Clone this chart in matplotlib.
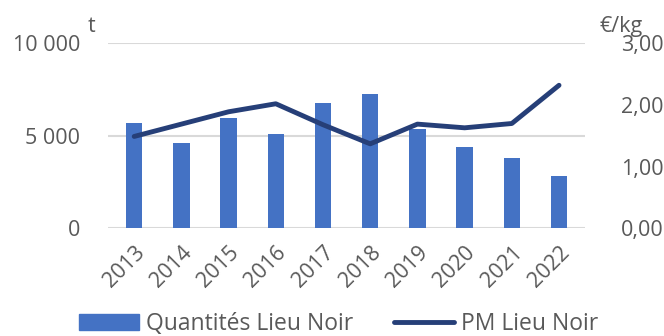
import matplotlib.pyplot as plt
from matplotlib.patches import Patch
from matplotlib.lines import Line2D

# Données
annees = ['2013', '2014', '2015', '2016', '2017', '2018', '2019', '2020', '2021', '2022']
quantites = [5680, 4630, 5980, 5100, 6790, 7260, 5350, 4380, 3790, 2830]
prix = [1.49, 1.69, 1.89, 2.02, 1.68, 1.37, 1.69, 1.63, 1.70, 2.32]
ticks_t = [0, 5000, 10000]
labels_t = ['0', '5 000', '10 000']
ticks_prix = [0, 1, 2, 3]
labels_prix = ['0,00', '1,00', '2,00', '3,00']

gris = '#595959'
plt.rcParams['font.family'] = ['Open Sans', 'DejaVu Sans']
taille = 15.5

fig = plt.figure(figsize=(6.64, 3.36), dpi=100)
ax = fig.add_axes([0.163, 0.3205, 0.718, 0.5505])
x = range(len(annees))
ax.bar(x, quantites, width=0.35, color='#4472c4', zorder=2)
ax.set_ylim(0, 10000)
ax.set_xlim(-0.55, len(annees) - 0.45)
ax.set_yticks(ticks_t)
ax.set_yticklabels(labels_t)
ax.grid(axis='y', color='#d9d9d9', linewidth=1.5, zorder=0)
ax.set_axisbelow(True)
ax.set_xticks(list(x))
ax.set_xticklabels(annees, rotation=45, ha='right', rotation_mode='anchor')
ax.tick_params(axis='both', length=0, labelsize=taille, colors=gris, pad=10)
ax.tick_params(axis='y', pad=20)
for s in ax.spines.values():
    s.set_visible(False)

ax2 = ax.twinx()
ax2.plot(x, prix, color='#263f78', linewidth=3.5, solid_capstyle='round', zorder=3)
ax2.set_ylim(0, 3)
ax2.set_yticks(ticks_prix)
ax2.set_yticklabels(labels_prix)
ax2.tick_params(axis='y', length=0, labelsize=taille, colors=gris, pad=26)
for s in ax2.spines.values():
    s.set_visible(False)

fig.text(0.137, 0.905, 't', fontsize=taille, color=gris, ha='center')
fig.text(0.935, 0.905, '€/kg', fontsize=taille, color=gris, ha='center')

handles = [Patch(color='#4472c4'), Line2D([0], [0], color='#263f78', linewidth=3.5, solid_capstyle='round')]
fig.legend(handles, ['Quantités Lieu Noir', 'PM Lieu Noir'], loc='center', bbox_to_anchor=(0.51, 0.035),
           ncol=2, frameon=False, fontsize=16.5, labelcolor=gris, handlelength=2.6, columnspacing=1.8,
           handletextpad=0.3, borderpad=0)

fig.savefig('out.png', dpi=100)
